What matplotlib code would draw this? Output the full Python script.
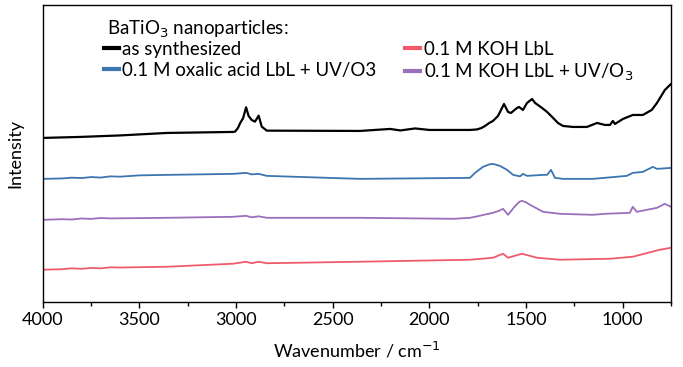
import numpy as np
import matplotlib
matplotlib.use("Agg")
import matplotlib.pyplot as plt
from matplotlib.ticker import MultipleLocator

plt.rcParams['font.family'] = ['Lato', 'DejaVu Sans']

# spectra (arbitrary intensity units, already offset)
wn_black = [4000, 3807, 3600, 3357, 3016, 3005, 2990, 2979, 2963, 2948, 2935, 2919, 2902,
            2883, 2867, 2841, 2359, 2203, 2150, 2074, 2000, 1790, 1754, 1730, 1712, 1690,
            1671, 1645, 1614, 1593, 1578, 1547, 1536, 1516, 1495, 1469, 1453, 1417, 1391,
            1360, 1335, 1309, 1257, 1185, 1133, 1092, 1066, 1051, 1040, 999, 948, 896,
            850, 823, 782, 756, 750]
int_black = [164, 165, 166.5, 169, 170, 170.3, 174, 178.7, 184, 194.7, 186, 182, 180.3,
             186.3, 175.3, 171.3, 171, 173, 171.5, 173.5, 172, 172, 172.5, 174, 176, 179,
             181, 186, 198, 190, 189, 194, 195, 192, 199, 203, 199, 194, 190,
             184, 179, 176, 175, 175, 179, 177, 177, 181, 178, 183, 187, 187,
             192, 199, 212, 217, 218]

wn_blue = [4000, 3900, 3850, 3800, 3750, 3700, 3650, 3600, 3500, 3357, 3016, 2948, 2919,
           2883, 2841, 2359, 1790, 1764, 1723, 1690, 1671, 1635, 1598, 1567, 1531, 1516,
           1495, 1412, 1391, 1371, 1350, 1309, 1154, 979, 948, 896, 844, 823, 750]
int_blue = [123, 123.4, 124.2, 123.8, 124.8, 124.3, 125.5, 125.2, 126.5, 127, 128, 129, 127.5,
            128, 126, 123, 124, 129, 135, 137.5, 138, 136, 132, 127, 125.5, 128,
            126, 127, 127, 132, 124, 123, 123, 126, 129, 130, 135, 133, 134]

wn_purple = [4000, 3900, 3850, 3800, 3750, 3700, 3650, 3357, 3016, 2948, 2919, 2883, 2841,
             2359, 1875, 1790, 1764, 1671, 1640, 1619, 1593, 1560, 1535, 1521, 1500, 1479,
             1412, 1324, 1154, 1092, 963, 948, 927, 823, 782, 750]
int_purple = [82, 82.6, 82.3, 83.3, 82.9, 83.8, 83.4, 84, 85, 86, 84.5, 85.5, 84,
              84, 83, 84, 85, 89, 91, 93, 87, 95, 100, 101, 99.5, 97,
              90, 88, 87, 88, 89, 95, 90, 94, 98, 95]

wn_red = [4000, 3900, 3850, 3800, 3750, 3700, 3650, 3600, 3357, 3016, 2948, 2919, 2883,
          2841, 2359, 1790, 1671, 1619, 1593, 1521, 1443, 1324, 1066, 948, 808, 750]
int_red = [32, 32.5, 33.4, 32.9, 33.8, 33.4, 34.4, 34.2, 35, 38, 40, 38.5, 40,
           38.5, 40, 42, 44, 48, 44, 48, 44, 42, 43, 45, 52, 54]

labels = ['as synthesized', '0.1 M oxalic acid LbL + UV/O3',
          '0.1 M KOH LbL', '0.1 M KOH LbL + UV/O$_3$']
colors = ['#000000', '#3b76b0', '#ef5b6b', '#9c6fbb']

fig = plt.figure(figsize=(6.83, 3.67), dpi=100)
ax = fig.add_axes([0.0625, 0.178, 0.92, 0.808])

l_black, = ax.plot(wn_black, int_black, color=colors[0], lw=1.6)
l_blue, = ax.plot(wn_blue, int_blue, color=colors[1], lw=1.3)
l_purple, = ax.plot(wn_purple, int_purple, color=colors[3], lw=1.3)
l_red, = ax.plot(wn_red, int_red, color=colors[2], lw=1.3)

ax.set_xlim(4000, 750)
ax.set_ylim(0, 297)
ax.set_yticks([])
ax.xaxis.set_major_locator(MultipleLocator(500))
ax.xaxis.set_minor_locator(MultipleLocator(250))
ax.tick_params(axis='x', which='major', direction='out', length=4, width=1, labelsize=13)
ax.tick_params(axis='x', which='minor', direction='out', length=3, width=1)
ax.set_xlabel('Wavenumber / cm$^{-1}$', fontsize=13, labelpad=9)
ax.set_ylabel('Intensity', fontsize=13, labelpad=14)
for s in ax.spines.values():
    s.set_linewidth(1.0)

fig.text(107 / 683, 1 - 29 / 367, 'BaTiO$_3$ nanoparticles:', fontsize=13.5,
         ha='left', va='center')
leg = ax.legend([l_black, l_blue, l_red, l_purple], labels, ncol=2, fontsize=13.5,
                loc='upper left', bbox_to_anchor=(0.097, 0.879), frameon=False,
                handlelength=0.8, handletextpad=0.2, columnspacing=1.5,
                labelspacing=0.2, borderaxespad=0, borderpad=0)
for h in leg.legend_handles:
    h.set_linewidth(3)

fig.savefig('out.png', dpi=100)
